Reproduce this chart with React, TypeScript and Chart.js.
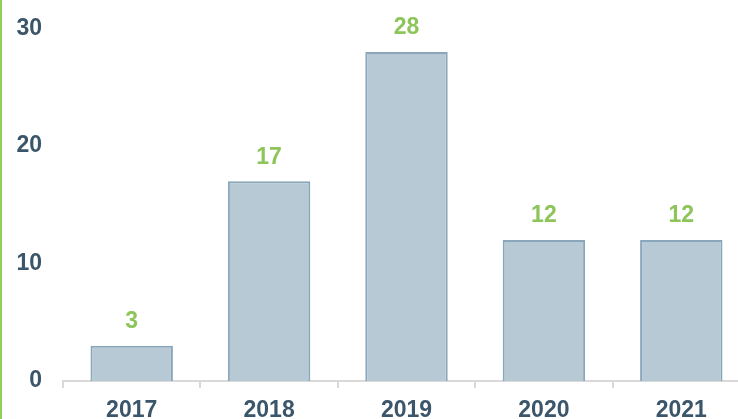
import React, { useEffect, useRef } from "react";
import { Chart, registerables } from "chart.js";

Chart.register(...registerables);

const categories = ["2017", "2018", "2019", "2020", "2021"];
const values = [3, 17, 28, 12, 12];
const yTicks = [0, 10, 20, 30];

const FONT = "'Liberation Sans', Arial, sans-serif";

const valueLabels = {
  id: "valueLabels",
  afterDatasetsDraw(chart: any) {
    const ctx = chart.ctx;
    const meta = chart.getDatasetMeta(0);
    ctx.save();
    ctx.font = `bold 23px ${FONT}`;
    ctx.fillStyle = "#8dc55a";
    ctx.textAlign = "center";
    ctx.textBaseline = "middle";
    meta.data.forEach((bar: any, i: number) => {
      ctx.fillText(String(values[i]), bar.x, bar.y - 24);
    });
    ctx.restore();
  },
};

export default function App() {
  const ref = useRef<HTMLCanvasElement>(null);
  useEffect(() => {
    if (!ref.current) return;
    const chart = new Chart(ref.current, {
      type: "bar",
      data: {
        labels: categories,
        datasets: [
          {
            data: values,
            backgroundColor: "#b7c9d5",
            borderColor: "#8aa6ba",
            borderWidth: 2,
            barPercentage: 0.6,
            categoryPercentage: 1,
          },
        ],
      },
      options: {
        animation: false,
        responsive: false,
        maintainAspectRatio: false,
        layout: { padding: { top: 28.5, right: 10, left: 0, bottom: 0 } },
        plugins: { legend: { display: false }, tooltip: { enabled: false } },
        scales: {
          x: {
            offset: true,
            grid: {
              display: true,
              drawOnChartArea: false,
              drawTicks: true,
              tickLength: 7,
              color: "#d9d9d9",
              lineWidth: 2,
              offset: true,
            },
            border: { display: true, color: "#d9d9d9", width: 2 },
            ticks: {
              color: "#3b566a",
              font: { family: FONT, size: 23, weight: "bold" },
              padding: 9,
              maxRotation: 0,
            },
            afterFit(scale: any) {
              scale.height = 440 - 381;
              scale.paddingLeft = 0;
              scale.paddingRight = 0;
            },
          },
          y: {
            min: 0,
            max: 30,
            afterBuildTicks(scale: any) {
              scale.ticks = yTicks.map((v) => ({ value: v }));
            },
            grid: { display: false, drawTicks: false },
            border: { display: false },
            ticks: {
              color: "#3b566a",
              font: { family: FONT, size: 23, weight: "bold" },
              padding: 21,
            },
            afterFit(scale: any) {
              scale.width = 63;
              scale.paddingTop = 0;
              scale.paddingBottom = 0;
            },
          },
        },
      },
      plugins: [valueLabels],
    });
    return () => chart.destroy();
  }, []);
  return (
    <div
      style={{
        position: "fixed",
        left: 0,
        top: 0,
        width: 738,
        height: 419,
        overflow: "hidden",
        background: "#fff",
      }}
    >
      <canvas ref={ref} width={760} height={440} style={{ display: "block" }} />
      <div
        style={{
          position: "absolute",
          left: 0,
          top: 0,
          width: 2,
          height: 419,
          background: "#8fd05c",
        }}
      />
    </div>
  );
}
